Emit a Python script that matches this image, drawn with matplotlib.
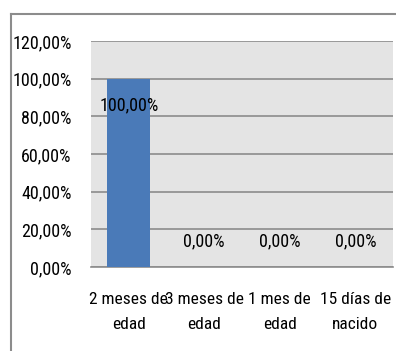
import matplotlib.pyplot as plt
from matplotlib.lines import Line2D

categorias = ['2 meses de\nedad', '3 meses de\nedad', '1 mes de\nedad', '15 días de\nnacido']
valores = [100.0, 0.0, 0.0, 0.0]
ticks_y = [0, 20, 40, 60, 80, 100, 120]

# fuente estrecha parecida a Calibri
plt.rcParams['font.family'] = ['Roboto Condensed', 'Sofia Sans Semi Condensed', 'DejaVu Sans']
fs = 12.5

fig = plt.figure(figsize=(3.96, 3.51), dpi=100)
W, H = 396, 351
ax = fig.add_axes([91 / W, 1 - 267 / H, (393 - 91) / W, (267 - 41) / H])
ax.set_facecolor('#e4e4e4')

x = range(len(categorias))
ax.bar(x, valores, width=0.57, color='#4a7ab8', zorder=3)
ax.set_xlim(-0.5, len(categorias) - 0.5)
ax.set_ylim(0, 120)

ax.set_yticks(ticks_y)
ax.set_yticklabels([f'{t:.2f}%'.replace('.', ',') for t in ticks_y], fontsize=13)
ax.set_xticks(list(x))
ax.set_xticklabels(categorias, fontsize=fs, linespacing=1.85)
ax.tick_params(axis='y', length=0, pad=14)
ax.tick_params(axis='x', length=0, pad=18)
ax.grid(axis='y', color='#8c8c8c', linewidth=1.2, zorder=1)

for s in ['left', 'right', 'top']:
    ax.spines[s].set_visible(False)
ax.spines['bottom'].set_color('#8c8c8c')
ax.spines['bottom'].set_linewidth(1.2)

# etiquetas de datos
for i, v in enumerate(valores):
    y = v - 14 if v > 50 else v + 13.5
    ax.text(i, y, f'{v:.2f}%'.replace('.', ','), ha='center', va='center',
            fontsize=13, zorder=4)

# marco del gráfico
fig.add_artist(Line2D([11 / W, 11 / W], [0, 1 - 14 / H], color='#8c8c8c', linewidth=1.5))
fig.add_artist(Line2D([11 / W, 1], [1 - 14 / H, 1 - 14 / H], color='#8c8c8c', linewidth=1.5))

fig.savefig('out.png', dpi=100, facecolor='white')
